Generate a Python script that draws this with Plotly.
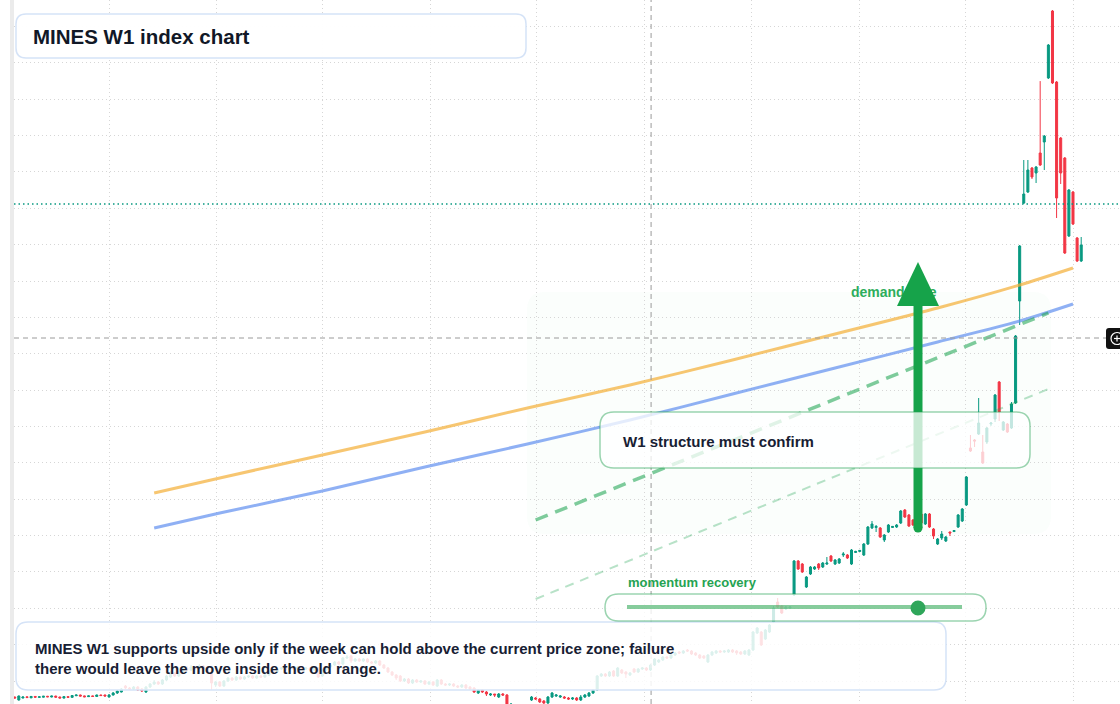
import plotly.graph_objects as go
import pandas as pd

W, H = 1120, 704
ML = 14

# ---------------- data (weekly bars) ----------------
first_week = "2021-01-21"

opens = [
    224, 191, 213, 226, 215, 230, 220, 222, 232, 224,
    234, 224, 212, 228, 220, 238, 246, 236, 228, 236,
    230, 246, 246, 224, 246, 268, 279, 345, 323, 312,
    334, 312, 279, 334, 367, 389, 367, 411, 444, 488,
    455, 499, 543, 521, 554, 532, 565, 532, 499, 356,
    389, 345, 400, 433, 411, 444, 422, 444, 455, 433,
    455, 444, 466, 510, 499, 532, 543, 521, 543, 532,
    554, 532, 543, 521, 543, 455, 521, 554, 576, 609,
    587, 653, 675, 620, 642, 620, 642, 609, 598, 620,
    576, 543, 499, 466, 455, 400, 422, 378, 411, 389,
    400, 367, 389, 345, 411, 367, 356, 367, 345, 334,
    356, 334, 323, 268, 301, 279, 246, 257, 224, 257,
    246, 114, 136, 92, 59, 103, 191, 213, 202, 180,
    158, 224, 235, 224, 224, 213, 202, 213, 191, 224,
    235, 268, 301, 455, 477, 455, 510, 455, 521, 499,
    466, 532, 499, 532, 543, 521, 576, 609, 631, 664,
    653, 686, 719, 708, 741, 730, 708, 686, 675, 609,
    686, 708, 730, 719, 719, 741, 730, 719, 697, 686,
    741, 928, 939, 862, 939, 1049, 1269, 1225, 1192, 1203,
    1346, 1720, 1687, 1434, 1577, 1632, 1687, 1654, 1687, 1775,
    1687, 1698, 1786, 1786, 1687, 1814, 1825, 1786, 1907, 2083,
    2089, 2083, 1951, 2039, 2089, 2094, 2138, 2281, 2226, 2171,
    2182, 2237, 2127, 2237, 2072, 1907, 1973, 1940, 2039, 2044,
    2094, 2160, 2336, 2963, 3051, 3117, 2919, 3029, 3227, 3282,
    3689, 3161, 3227, 3183, 3458, 4580, 5658, 5779, 6043, 5988,
    6208, 6329, 7033, 7770, 6989, 6373, 6153, 5295, 5779, 5273, 5020,
]
highs = [
    228, 240, 229, 230, 235, 234, 230, 236, 236, 238,
    238, 228, 232, 232, 244, 250, 250, 240, 240, 240,
    250, 250, 250, 257, 279, 301, 323, 356, 334, 345,
    345, 323, 345, 378, 411, 400, 422, 466, 510, 499,
    510, 554, 565, 576, 565, 587, 576, 543, 510, 400,
    400, 411, 444, 444, 455, 455, 455, 466, 466, 466,
    466, 477, 521, 521, 543, 554, 554, 554, 554, 565,
    565, 554, 554, 554, 554, 532, 565, 587, 620, 620,
    664, 686, 686, 653, 653, 653, 653, 620, 631, 631,
    587, 554, 510, 477, 466, 433, 433, 422, 422, 411,
    411, 400, 400, 422, 422, 378, 378, 378, 356, 367,
    367, 345, 334, 312, 312, 290, 268, 257, 268, 268,
    257, 158, 147, 103, 114, 141, 235, 224, 213, 191,
    235, 279, 257, 246, 235, 224, 224, 224, 246, 257,
    279, 312, 466, 488, 488, 510, 521, 554, 532, 510,
    499, 543, 543, 554, 554, 587, 653, 642, 675, 675,
    697, 719, 730, 741, 752, 741, 719, 697, 686, 697,
    730, 741, 741, 741, 752, 752, 741, 730, 741, 752,
    950, 994, 950, 972, 1027, 1225, 1313, 1236, 1225, 1225,
    1731, 1731, 1698, 1555, 1665, 1665, 1698, 1709, 1764, 1786,
    1742, 1753, 1819, 1797, 1852, 1832, 1841, 1918, 2105, 2160,
    2116, 2094, 2017, 2127, 2105, 2127, 2281, 2292, 2237, 2182,
    2193, 2248, 2248, 2248, 2083, 1973, 2050, 1995, 2044, 2061,
    2237, 2303, 2655, 3106, 3062, 3513, 3106, 3194, 3249, 3557,
    3700, 3260, 3238, 3469, 4206, 5196, 6131, 6131, 6054, 6065,
    6999, 6406, 7407, 7781, 7000, 6384, 6164, 5812, 5790, 5284, 5284,
]
lows = [
    208, 185, 209, 214, 211, 218, 216, 218, 222, 220,
    218, 209, 208, 216, 216, 234, 230, 222, 224, 226,
    226, 236, 231, 218, 240, 257, 274, 312, 301, 301,
    290, 279, 268, 323, 356, 356, 356, 400, 433, 444,
    444, 488, 510, 510, 521, 521, 521, 488, 301, 334,
    334, 334, 389, 400, 400, 411, 411, 433, 422, 422,
    433, 433, 455, 488, 488, 521, 510, 510, 521, 521,
    521, 521, 510, 510, 433, 444, 510, 543, 565, 576,
    576, 642, 598, 609, 609, 609, 598, 587, 587, 565,
    532, 488, 455, 411, 389, 389, 367, 367, 378, 378,
    356, 356, 345, 334, 356, 345, 345, 334, 323, 323,
    312, 301, 268, 257, 268, 235, 235, 224, 213, 235,
    81, 103, 70, 37, 48, 92, 180, 191, 158, 147,
    147, 213, 224, 213, 202, 191, 191, 180, 180, 213,
    224, 257, 290, 444, 444, 444, 444, 444, 477, 433,
    455, 488, 488, 521, 510, 510, 565, 598, 620, 642,
    642, 675, 697, 697, 719, 686, 675, 642, 642, 598,
    675, 697, 708, 708, 708, 708, 686, 686, 686, 675,
    730, 917, 785, 851, 928, 1038, 1203, 1137, 1181, 1192,
    1335, 1621, 1588, 1423, 1566, 1621, 1621, 1643, 1676, 1709,
    1676, 1687, 1764, 1742, 1676, 1808, 1819, 1775, 1896, 2072,
    2039, 1973, 1929, 2028, 2083, 2083, 2127, 2193, 2094, 2105,
    2083, 2127, 2116, 2083, 1962, 1896, 1951, 1929, 1995, 2039,
    2083, 2149, 2325, 2919, 2974, 3106, 2787, 3007, 3205, 3249,
    3260, 3150, 3128, 3172, 3447, 4316, 5647, 5768, 5922, 5878,
    6065, 6021, 7022, 6967, 5493, 5867, 5097, 5284, 5416, 5009, 5009,
]
closes = [
    213, 235, 224, 218, 230, 222, 226, 232, 226, 234,
    222, 213, 228, 220, 240, 246, 234, 226, 236, 230,
    246, 240, 235, 246, 268, 290, 312, 323, 312, 334,
    301, 290, 334, 367, 389, 367, 411, 455, 488, 455,
    499, 543, 521, 554, 532, 565, 532, 499, 378, 389,
    345, 400, 433, 411, 444, 422, 444, 455, 433, 455,
    444, 466, 510, 499, 532, 543, 521, 543, 532, 554,
    532, 543, 521, 543, 444, 521, 554, 576, 609, 587,
    653, 664, 620, 642, 620, 642, 609, 598, 620, 576,
    543, 499, 466, 433, 400, 422, 378, 411, 389, 400,
    367, 389, 356, 411, 367, 356, 367, 345, 334, 356,
    323, 312, 279, 301, 279, 257, 257, 246, 257, 246,
    103, 147, 92, 59, 103, 136, 224, 202, 169, 158,
    224, 268, 246, 235, 213, 202, 213, 191, 224, 246,
    268, 301, 455, 477, 455, 499, 455, 543, 488, 477,
    488, 499, 532, 543, 521, 576, 642, 631, 664, 653,
    686, 708, 708, 730, 730, 697, 686, 653, 653, 686,
    719, 730, 719, 730, 741, 719, 708, 697, 730, 741,
    939, 983, 796, 961, 1016, 1203, 1214, 1148, 1214, 1214,
    1720, 1632, 1599, 1544, 1654, 1654, 1643, 1698, 1698, 1720,
    1731, 1742, 1797, 1753, 1841, 1825, 1836, 1907, 2094, 2127,
    2100, 1984, 2006, 2116, 2100, 2116, 2270, 2204, 2105, 2116,
    2094, 2138, 2237, 2094, 1995, 1962, 2017, 1984, 2028, 2055,
    2226, 2292, 2644, 2930, 3040, 3238, 2798, 3183, 3238, 3546,
    3359, 3249, 3139, 3447, 4195, 5185, 5757, 6021, 5944, 6054,
    6076, 6395, 7396, 6978, 5713, 5988, 5108, 5801, 5427, 5020, 5196,
]

dates = pd.date_range(first_week, periods=len(opens), freq="7D")

# moving-average style curves (read at selected bars)
ma_idx = [34, 50, 75, 100, 125, 150, 175, 200, 225, 245, 258]
ma_upper = [2468, 2633, 2886, 3139, 3403, 3656, 3931, 4217, 4503, 4756, 4943]
ma_lower = [2083, 2248, 2490, 2754, 3007, 3271, 3557, 3843, 4129, 4360, 4547]

# dashed trend lines
trend_idx = [127, 252]
trend_main = [2171, 4448]
trend_low = [1302, 3612]

last_level = 5647
cross_level = 4173
cross_date = "2024-01-12"
demand_date = "2025-03-01"
demand_level = 4668

UP = "#089981"
DN = "#F23645"

# ---------------- helpers for overlay geometry ----------------
def PX(x):
    return (x - ML) / (W - ML)


def PY(y):
    return (H - y) / H


def rrect(x0, y0, x1, y1, r):
    rx, ry = r / (W - ML), r / H
    X0, X1, Yt, Yb = PX(x0), PX(x1), PY(y0), PY(y1)
    return (f"M {X0+rx},{Yt} L {X1-rx},{Yt} Q {X1},{Yt} {X1},{Yt-ry} "
            f"L {X1},{Yb+ry} Q {X1},{Yb} {X1-rx},{Yb} L {X0+rx},{Yb} "
            f"Q {X0},{Yb} {X0},{Yb+ry} L {X0},{Yt-ry} Q {X0},{Yt} {X0+rx},{Yt} Z")


fig = go.Figure()

fig.add_trace(go.Candlestick(
    x=dates, open=opens, high=highs, low=lows, close=closes,
    increasing=dict(line=dict(color=UP, width=1), fillcolor=UP),
    decreasing=dict(line=dict(color=DN, width=1), fillcolor=DN),
    whiskerwidth=0, hoverinfo="skip", showlegend=False,
))

fig.add_trace(go.Scatter(
    x=[dates[i] for i in ma_idx], y=ma_upper, mode="lines",
    line=dict(color="rgba(244,176,58,0.72)", width=3, shape="spline", smoothing=0.8),
    hoverinfo="skip", showlegend=False))
fig.add_trace(go.Scatter(
    x=[dates[i] for i in ma_idx], y=ma_lower, mode="lines",
    line=dict(color="rgba(100,145,240,0.72)", width=3, shape="spline", smoothing=0.8),
    hoverinfo="skip", showlegend=False))

fig.add_trace(go.Scatter(
    x=[dates[i] for i in trend_idx], y=trend_main, mode="lines",
    line=dict(color="rgba(34,165,85,0.58)", width=3.5, dash="13px,8px"),
    hoverinfo="skip", showlegend=False))
fig.add_trace(go.Scatter(
    x=[dates[i] for i in trend_idx], y=trend_low, mode="lines",
    line=dict(color="rgba(34,165,85,0.32)", width=2, dash="9px,7px"),
    hoverinfo="skip", showlegend=False))

fig.add_trace(go.Scatter(
    x=[demand_date], y=[demand_level], mode="text",
    text=["<b>demand side</b>"],
    textfont=dict(family="Liberation Sans, Arial, sans-serif", size=14, color="#2EAD5C"),
    hoverinfo="skip", showlegend=False))

shapes = []
# left gray strip
shapes.append(dict(type="rect", xref="paper", yref="paper", x0=PX(10), x1=PX(14), y0=0, y1=1,
                   fillcolor="#EBEBEB", line=dict(width=0), layer="above"))
# demand zone
shapes.append(dict(type="path", xref="paper", yref="paper", path=rrect(527, 292, 1051, 534, 18),
                   fillcolor="rgba(34,197,94,0.02)", line=dict(width=0), layer="between"))
# last price dotted line
shapes.append(dict(type="line", xref="paper", yref="y", x0=0, x1=1, y0=last_level, y1=last_level,
                   line=dict(color=UP, width=1.5, dash="1.5px,3px"), layer="above"))
# crosshair
shapes.append(dict(type="line", xref="paper", yref="y", x0=0, x1=1, y0=cross_level, y1=cross_level,
                   line=dict(color="#9A9A9A", width=1, dash="5px,4px"), layer="above"))
shapes.append(dict(type="line", xref="x", yref="paper", x0=cross_date, x1=cross_date, y0=0, y1=1,
                   line=dict(color="#9A9A9A", width=1, dash="5px,4px"), layer="above"))
# big arrow
AC = "#16A34A"
shapes.append(dict(type="line", xref="paper", yref="paper", x0=PX(918), x1=PX(918), y0=PY(528), y1=PY(300),
                   line=dict(color=AC, width=9), layer="above"))
shapes.append(dict(type="circle", xref="paper", yref="paper", x0=PX(913.5), x1=PX(922.5),
                   y0=PY(532.5), y1=PY(523.5), fillcolor=AC, line=dict(width=0), layer="above"))
shapes.append(dict(type="path", xref="paper", yref="paper",
                   path=f"M {PX(897)},{PY(306)} L {PX(939)},{PY(306)} L {PX(918)},{PY(262)} Z",
                   fillcolor=AC, line=dict(width=0), layer="above"))
# W1 box
shapes.append(dict(type="path", xref="paper", yref="paper", path=rrect(600, 412, 1030, 468, 14),
                   fillcolor="rgba(255,255,255,0.76)", line=dict(color="rgba(34,160,80,0.45)", width=1.5),
                   layer="above"))
# bottom text box
shapes.append(dict(type="path", xref="paper", yref="paper", path=rrect(16, 622, 946, 690, 12),
                   fillcolor="rgba(255,255,255,0.86)", line=dict(color="#D5E3F7", width=1.5),
                   layer="above"))
# momentum pill
shapes.append(dict(type="path", xref="paper", yref="paper", path=rrect(605, 594, 986, 621, 13.5),
                   fillcolor="rgba(255,255,255,0.8)", line=dict(color="rgba(34,160,80,0.45)", width=1.5),
                   layer="above"))
shapes.append(dict(type="line", xref="paper", yref="paper", x0=PX(627), x1=PX(962), y0=PY(607), y1=PY(607),
                   line=dict(color="rgba(34,163,74,0.55)", width=4), layer="above"))
shapes.append(dict(type="circle", xref="paper", yref="paper", x0=PX(910.5), x1=PX(925.5),
                   y0=PY(615.5), y1=PY(600.5), fillcolor="#2FA65A", line=dict(width=0), layer="above"))
# title box
shapes.append(dict(type="path", xref="paper", yref="paper", path=rrect(16, 14, 526, 58, 10),
                   fillcolor="rgba(255,255,255,0.96)", line=dict(color="#D5E3F7", width=1.5),
                   layer="above"))
# crosshair "+" widget at right edge
shapes.append(dict(type="path", xref="paper", yref="paper", path=rrect(1106, 328, 1130, 349, 3),
                   fillcolor="#111111", line=dict(width=0), layer="above"))
shapes.append(dict(type="circle", xref="paper", yref="paper", x0=PX(1111), x1=PX(1123),
                   y0=PY(344.5), y1=PY(332.5), fillcolor="rgba(0,0,0,0)",
                   line=dict(color="white", width=1.2), layer="above"))
shapes.append(dict(type="line", xref="paper", yref="paper", x0=PX(1114), x1=PX(1120), y0=PY(338.5), y1=PY(338.5),
                   line=dict(color="white", width=1.2), layer="above"))
shapes.append(dict(type="line", xref="paper", yref="paper", x0=PX(1117), x1=PX(1117), y0=PY(335.5), y1=PY(341.5),
                   line=dict(color="white", width=1.2), layer="above"))

FONT = "Liberation Sans, Arial, sans-serif"
annotations = [
    dict(xref="paper", yref="paper", x=PX(31), y=PY(36), xanchor="left", yanchor="middle",
         text="<b>MINES W1 index chart</b>", showarrow=False,
         font=dict(family=FONT, size=20.5, color="#111827")),
    dict(xref="paper", yref="paper", x=PX(33), y=PY(658), xanchor="left", yanchor="middle", align="left",
         text="<b>MINES W1 supports upside only if the week can hold above the current price zone; failure"
              "<br>there would leave the move inside the old range.</b>",
         showarrow=False, font=dict(family=FONT, size=15, color="#172033")),
    dict(xref="paper", yref="paper", x=PX(621), y=PY(441), xanchor="left", yanchor="middle",
         text="<b>W1 structure must confirm</b>", showarrow=False,
         font=dict(family=FONT, size=15, color="#172033")),
    dict(xref="paper", yref="paper", x=PX(626), y=PY(582), xanchor="left", yanchor="middle",
         text="<b>momentum recovery</b>", showarrow=False,
         font=dict(family=FONT, size=13, color="#25A352")),
]

grid = dict(showgrid=True, gridcolor="#D6D6D6", gridwidth=1, griddash="1.2px,2.8px",
            zeroline=False, showline=False, showticklabels=False, ticks="")

fig.update_layout(
    width=W, height=H,
    margin=dict(l=ML, r=0, t=0, b=0),
    paper_bgcolor="white", plot_bgcolor="white",
    showlegend=False,
    shapes=shapes, annotations=annotations,
    xaxis=dict(type="date", range=["2021-01-19 19:00", "2026-03-22 05:00"],
               dtick="M6", tick0="2021-01-01", rangeslider=dict(visible=False), **grid),
    yaxis=dict(range=[147, 7891], dtick=400, tick0=0, **grid),
    hovermode=False,
)

fig.write_html("out.html")
